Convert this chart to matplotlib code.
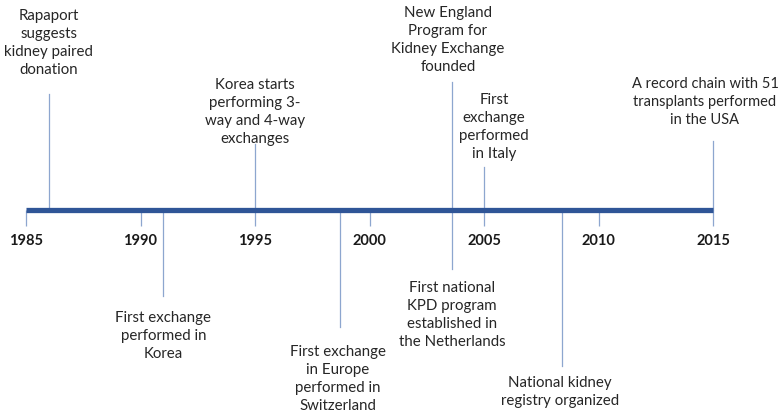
import matplotlib
matplotlib.use("Agg")
import matplotlib.pyplot as plt
import matplotlib.transforms as mtransforms

plt.rcParams["font.family"] = ["Lato", "DejaVu Sans"]

# timeline data
tick_years = [1985, 1990, 1995, 2000, 2005, 2010, 2015]
event_years = [1986, 1995, 2003.6, 2005, 2015, 1991, 1998.7, 2003.6, 2008.4]
event_labels = [
    "Rapaport\nsuggests\nkidney paired\ndonation",
    "Korea starts\nperforming 3-\nway and 4-way\nexchanges",
    "New England\nProgram for\nKidney Exchange\nfounded",
    "First\nexchange\nperformed\nin Italy",
    "A record chain with 51\ntransplants performed\nin the USA",
    "First exchange\nperformed in\nKorea",
    "First exchange\nin Europe\nperformed in\nSwitzerland",
    "First national\nKPD program\nestablished in\nthe Netherlands",
    "National kidney\nregistry organized",
]

# layout (pixel rows from the top, pixel x offsets of the text block)
line_end_px = [95, 145, 83, 168, 142, 297, 328, 270, 367]
text_mid_px = [43, 112, 40, 127, 102, 336, 379, 315, 392]
text_dx_px = [0, 0, -4, 10, -8, 0, -2, 0, -2]
text_size = [10.8, 10.8, 10.8, 10.8, 10.5, 10.8, 10.8, 10.8, 10.8]

W, H = 782, 414
bar_y = 210.5
px_per_year = (713 - 26) / 30.0

fig = plt.figure(figsize=(W / 100, H / 100), dpi=100)
ax = fig.add_axes([0, 0, 1, 1])
ax.set_xlim(1985 - 26 / px_per_year, 1985 + (W - 26) / px_per_year)
ax.set_ylim(H, 0)
ax.axis("off")

thin = "#8DA6CF"
dark = "#2F5597"

# event stems
for yr, end in zip(event_years, line_end_px):
    ax.plot([yr, yr], [bar_y, end], color=thin, lw=0.9, zorder=1)

# year ticks and labels
ax.vlines(tick_years, bar_y, 227, color=thin, lw=0.9, zorder=1)
for yr in tick_years:
    ax.text(yr, 241, str(yr), ha="center", va="center", fontsize=10.5,
            fontweight="bold", color="#1a1a1a")

# main bar
ax.plot([tick_years[0], tick_years[-1]], [bar_y, bar_y], color=dark, lw=3.8,
        solid_capstyle="butt", zorder=2)

for yr, lab, mid, dx, fs in zip(event_years, event_labels, text_mid_px,
                                text_dx_px, text_size):
    tr = mtransforms.offset_copy(ax.transData, fig=fig, x=dx, y=0, units="dots")
    ax.text(yr, mid, lab, transform=tr, ha="center", va="center",
            multialignment="center", fontsize=fs, linespacing=1.36,
            color="#262626")

fig.savefig("out.png", dpi=100)
